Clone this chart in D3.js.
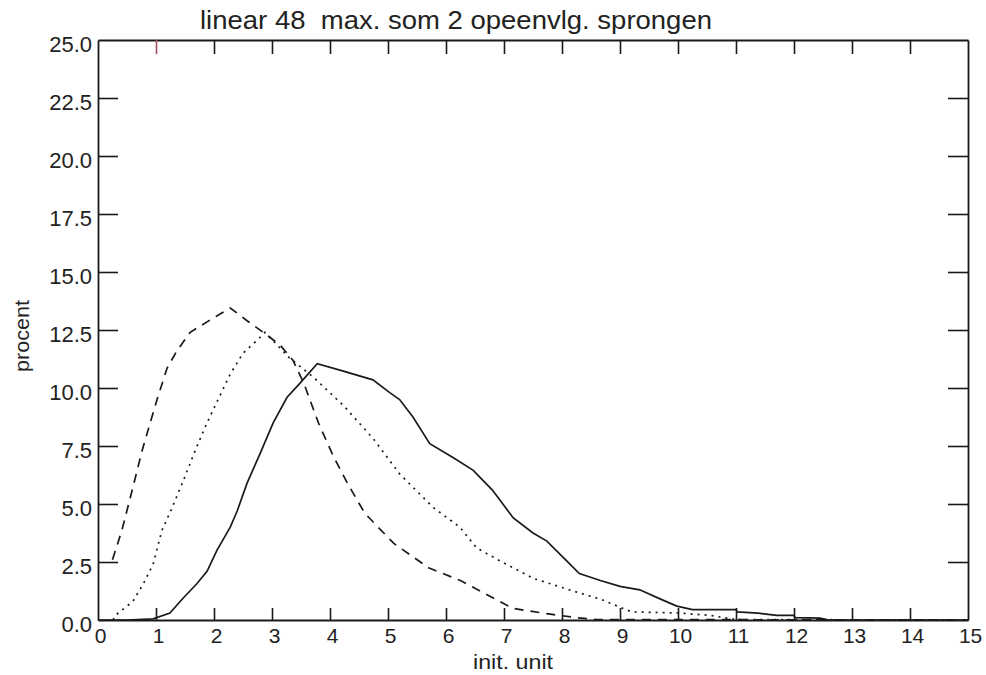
<!DOCTYPE html>
<html>
<head>
<meta charset="utf-8">
<script src="https://cdn.jsdelivr.net/npm/d3@7/dist/d3.min.js"></script>
<style>
  html, body { margin: 0; padding: 0; background: #fff; }
  svg { display: block; }
  text { font-family: "Liberation Sans", Arial, Helvetica, sans-serif; fill: #222; }
</style>
</head>
<body>
<svg id="chart" width="986" height="675"></svg>
<script>
// ---- data ----
const title = "linear 48  max. som 2 opeenvlg. sprongen";
const xLabel = "init. unit";
const yLabel = "procent";
const xTicks = [0,1,2,3,4,5,6,7,8,9,10,11,12,13,14,15];
const yTicks = [0,2.5,5,7.5,10,12.5,15,17.5,20,22.5,25];

// solid series
const solidX = [0,0.5,0.95,1.24,1.47,1.7,1.88,2.05,2.28,2.4,2.57,2.8,3.02,3.26,3.48,3.78,4.2,4.74,5.03,5.2,5.43,5.72,6.12,6.47,6.8,7.16,7.5,7.74,8.02,8.3,8.66,9.0,9.34,9.7,9.98,10.25,11.0,11.02,11.38,11.7,12.0,12.02,12.45,12.6,15];
const solidY = [0,0,0.05,0.3,0.95,1.55,2.1,3.0,4.0,4.7,5.9,7.2,8.5,9.6,10.2,11.05,10.75,10.35,9.8,9.5,8.75,7.6,7.0,6.45,5.6,4.4,3.75,3.4,2.7,2.0,1.7,1.45,1.3,0.9,0.6,0.45,0.45,0.35,0.3,0.2,0.2,0.1,0.08,0,0];

// dotted series
const dottedX = [0.26,0.3,0.6,0.78,0.95,1.1,1.28,1.47,1.7,1.88,2.07,2.28,2.5,2.74,2.88,3.3,3.72,4.25,4.75,5.2,5.78,6.24,6.53,6.93,7.5,8.19,8.66,9.2,10.03,10.55,11.0,15];
const dottedY = [0,0.2,0.8,1.55,2.4,3.85,4.85,6.0,7.45,8.5,9.5,10.6,11.5,12.05,12.4,11.3,10.45,9.2,7.8,6.3,4.85,4.0,3.1,2.55,1.8,1.25,0.9,0.35,0.3,0.2,0.02,0];

// dashed series
const dashedX = [0.25,0.41,0.59,0.76,0.9,1.03,1.19,1.36,1.59,1.88,2.28,2.57,2.85,3.14,3.36,3.55,3.8,4.05,4.3,4.6,5.1,5.7,6.25,6.7,7.15,7.8,8.25,8.6,15];
const dashedY = [2.6,3.85,5.6,7.3,8.5,9.6,10.85,11.6,12.4,12.85,13.45,12.9,12.4,11.85,11.2,10.2,8.5,7.1,5.9,4.6,3.3,2.25,1.7,1.1,0.5,0.25,0.1,0.02,0];

// ---- drawing ----
const svg = d3.select("#chart");
const x = d3.scaleLinear().domain([0, 15]).range([98, 968]);
const y = d3.scaleLinear().domain([0, 25]).range([620, 40]);

const line = d3.line().x(d => x(d[0])).y(d => y(d[1]));
const series = [
  {xs: solidX, ys: solidY, dash: null},
  {xs: dottedX, ys: dottedY, dash: "2,5"},
  {xs: dashedX, ys: dashedY, dash: "9,7"}
];
series.forEach(s => {
  const pts = s.xs.map((v, i) => [v, s.ys[i]]);
  svg.append("path")
    .attr("d", line(pts))
    .attr("fill", "none")
    .attr("stroke", "#1a1a1a")
    .attr("stroke-width", 1.7)
    .attr("stroke-dasharray", s.dash);
});

// axes (ticks inward, like IDL)
const axB = svg.append("g").attr("transform", `translate(0,${y(0)})`)
  .call(d3.axisBottom(x).tickValues(xTicks).tickSizeInner(-12).tickSizeOuter(0).tickPadding(8).tickFormat(d3.format("d")));
const axT = svg.append("g").attr("transform", `translate(0,${y(25)})`)
  .call(d3.axisTop(x).tickValues(xTicks).tickSizeInner(-14).tickSizeOuter(0).tickFormat(""));
const axL = svg.append("g").attr("transform", `translate(${x(0)},0)`)
  .call(d3.axisLeft(y).tickValues(yTicks).tickSizeInner(-20).tickSizeOuter(0).tickPadding(6).tickFormat(d3.format(".1f")));
const axR = svg.append("g").attr("transform", `translate(${x(15)},0)`)
  .call(d3.axisRight(y).tickValues(yTicks).tickSizeInner(-20).tickSizeOuter(0).tickFormat(""));

[axB, axT, axL, axR].forEach(g => {
  g.selectAll("path.domain").attr("stroke", "#1a1a1a").attr("stroke-width", 1.8);
  g.selectAll(".tick line").attr("stroke", "#1a1a1a").attr("stroke-width", 1.6);
  g.selectAll(".tick text").attr("font-size", 21).attr("fill", "#222")
    .style("font-family", "'Liberation Sans', Arial, sans-serif");
});
axT.selectAll(".tick").filter(d => d === 1).select("line").attr("stroke", "#a0505f");
axL.selectAll(".tick text").attr("font-size", 22).attr("dy", "0.5em");
axB.selectAll(".tick text").attr("dx", "0.1em");
// tick marks at the corners coincide with the border
axL.selectAll(".tick").filter(d => d === 0 || d === 25).select("line").remove();
axR.selectAll(".tick").filter(d => d === 0 || d === 25).select("line").remove();
axB.selectAll(".tick").filter(d => d === 0 || d === 15).select("line").remove();
axT.selectAll(".tick").filter(d => d === 0 || d === 15).select("line").remove();

// title and axis labels
svg.append("text").attr("x", 456).attr("y", 29).attr("text-anchor", "middle")
  .style("white-space", "pre").attr("xml:space", "preserve")
  .attr("font-size", 25).attr("textLength", 512).attr("lengthAdjust", "spacingAndGlyphs")
  .text(title);
svg.append("text").attr("x", 513).attr("y", 669).attr("text-anchor", "middle")
  .attr("font-size", 21).attr("textLength", 80).attr("lengthAdjust", "spacingAndGlyphs").text(xLabel);
svg.append("text").attr("transform", "translate(29,336) rotate(-90)").attr("text-anchor", "middle")
  .attr("font-size", 21).attr("textLength", 72).attr("lengthAdjust", "spacingAndGlyphs").text(yLabel);
</script>
</body>
</html>
